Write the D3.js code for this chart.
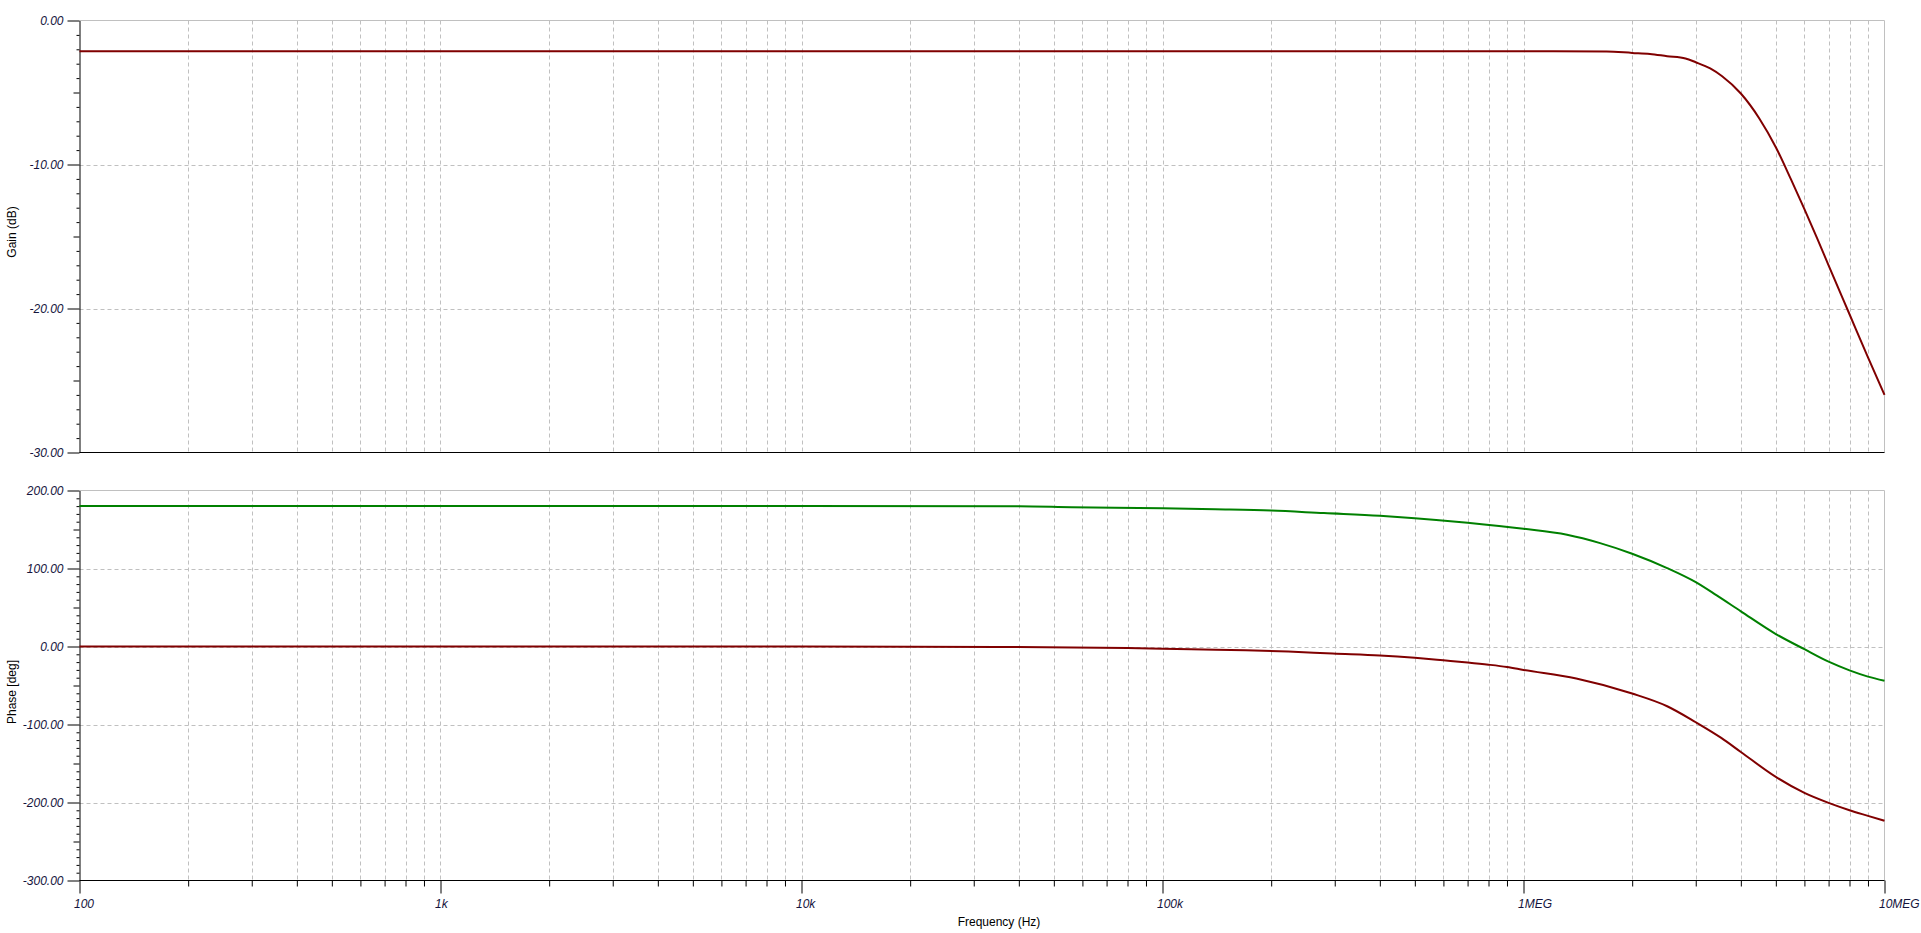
<!DOCTYPE html>
<html>
<head>
<meta charset="utf-8">
<script src="https://cdn.jsdelivr.net/npm/d3@7"></script>
<style>
  html, body { margin: 0; padding: 0; background: #fff; }
  svg { display: block; font-family: "Liberation Sans", Arial, sans-serif; }
  .tick text { font-style: italic; font-size: 12px; fill: #14143c; }
</style>
</head>
<body>
<div id="chart"></div>
<script>
// gain trace (Hz, dB)
const gainFreqs = [100, 1e4, 1e6, 1.7e6, 2e6, 2.24e6, 2.5e6, 2.81e6, 3e6, 3.29e6, 3.55e6, 4e6, 4.5e6, 5e6, 5.5e6, 6e6, 6.5e6, 7e6, 8e6, 9e6, 1e7]
const gainValues = [-2.13, -2.13, -2.13, -2.15, -2.25, -2.32, -2.48, -2.64, -2.9, -3.33, -3.87, -5.07, -6.8, -8.8, -11.0, -13.1, -15.1, -17.0, -20.4, -23.4, -26.0]

// phase traces (Hz, deg)
const phaseOutFreqs = [100, 1e4, 2e4, 3.5e4, 8e4, 1.2e5, 1.7e5, 2.23e5, 2.96e5, 4e5, 5e5, 6e5, 7e5, 8e5, 9e5, 1e6, 1.4e6, 2e6, 2.5e6, 3e6, 3.53e6, 4e6, 5e6, 6e6, 7e6, 8e6, 9e6, 1e7]
const phaseOut = [0, 0, -0.2, -0.6, -1.9, -3.6, -4.9, -6.5, -9.1, -11.5, -14.5, -17.7, -20.5, -23.3, -26.3, -30.0, -41.0, -60.3, -76.6, -97.1, -117.2, -135.2, -167.2, -187.7, -200.5, -209.9, -217.1, -223.5]

const phaseInvFreqs = [100, 1e4, 4e4, 5.6e4, 1e5, 1.4e5, 2e5, 2.8e5, 4e5, 5e5, 7e5, 1e6, 1.32e6, 1.63e6, 2e6, 2.5e6, 3e6, 3.43e6, 4e6, 5e6, 6e6, 7e6, 8e6, 9e6, 1e7]
const phaseInv = [180, 180, 179.8, 178.6, 177.3, 176.0, 174.3, 171.0, 167.6, 164.5, 158.6, 150.9, 143.2, 132.5, 118.9, 100.5, 82.5, 65.5, 45.1, 16.0, -3.5, -19.5, -30.6, -38.6, -44.0]

const decades = [100, 1e3, 1e4, 1e5, 1e6, 1e7]
const decadeLabels = ["100", "1k", "10k", "100k", "1MEG", "10MEG"]
const gainTickLabels = ["0.00", "-10.00", "-20.00", "-30.00"]
const phaseTickLabels = ["200.00", "100.00", "0.00", "-100.00", "-200.00", "-300.00"]

const width = 1921, height = 933
const left = 79.5, right = 1884.5
const gainTop = 20.5, gainBottom = 452.5
const phaseTop = 490.5, phaseBottom = 880.5

const svg = d3.select("#chart").append("svg")
  .attr("width", width)
  .attr("height", height)

const x = d3.scaleLog().domain([100, 1e7]).range([left, right])
const yGain = d3.scaleLinear().domain([0, -30]).range([gainTop, gainBottom])
const yPhase = d3.scaleLinear().domain([200, -300]).range([phaseTop, phaseBottom])

// every 2..9 step of each decade, plus decades inside the range
const minorFreqs = []
decades.slice(0, -1).forEach(d => { for (let k = 1; k < 10; k++) minorFreqs.push(d * k) })
minorFreqs.push(1e7)

const grid = "#c0c0c0"

function panel(y, top, bottom, minorStep, midStep, majorStep, labels) {
  const [y0, y1] = y.domain()
  const g = svg.append("g")

  // vertical dashed grid
  g.selectAll(".vgrid")
    .data(minorFreqs.filter(f => f > 100 && f < 1e7))
    .enter().append("line")
    .attr("x1", d => Math.round(x(d)) + 0.5)
    .attr("x2", d => Math.round(x(d)) + 0.5)
    .attr("y1", top)
    .attr("y2", bottom)
    .attr("stroke", grid)
    .attr("stroke-dasharray", "4,3")

  // horizontal dashed grid at majors
  const majors = d3.range(y0, y1 - 0.001, -majorStep)
  g.selectAll(".hgrid")
    .data(majors.filter(v => v !== y0 && v !== y1))
    .enter().append("line")
    .attr("x1", left)
    .attr("x2", right)
    .attr("y1", d => Math.round(y(d)) + 0.5)
    .attr("y2", d => Math.round(y(d)) + 0.5)
    .attr("stroke", grid)
    .attr("stroke-dasharray", "4,3")

  // frame top and right
  g.append("line").attr("x1", left).attr("x2", right).attr("y1", top).attr("y2", top).attr("stroke", grid)
  g.append("line").attr("x1", right).attr("x2", right).attr("y1", top).attr("y2", bottom).attr("stroke", grid)

  // left axis, three tick levels
  const all = d3.range(y0, y1 - 0.001, -minorStep)
  const axisMinor = d3.axisLeft(y).tickValues(all.filter(v => Math.abs(v % midStep) > 0.001)).tickSize(3).tickSizeOuter(0).tickFormat("")
  const axisMid = d3.axisLeft(y).tickValues(all.filter(v => Math.abs(v % midStep) < 0.001 && Math.abs(v % majorStep) > 0.001)).tickSize(6).tickSizeOuter(0).tickFormat("")
  const axisMajor = d3.axisLeft(y).tickValues(majors).tickSize(12).tickSizeOuter(0).tickPadding(4)
    .tickFormat((d, i) => labels[i])

  g.append("g").attr("transform", `translate(${left},0)`).call(axisMinor).call(a => a.select(".domain").remove())
  g.append("g").attr("transform", `translate(${left},0)`).call(axisMid).call(a => a.select(".domain").remove())
  g.append("g").attr("transform", `translate(${left},0)`).call(axisMajor)
  g.selectAll(".domain, .tick line").attr("stroke", "#000")

  // bottom black line
  g.append("line").attr("x1", left).attr("x2", right).attr("y1", bottom).attr("y2", bottom).attr("stroke", "#000")
  return g
}

panel(yGain, gainTop, gainBottom, 1, 5, 10, gainTickLabels)
panel(yPhase, phaseTop, phaseBottom, 10, 50, 100, phaseTickLabels)

// frequency axis under the phase panel
const xMinor = d3.axisBottom(x).tickValues(minorFreqs.filter(f => !decades.includes(f))).tickSize(6).tickSizeOuter(0).tickFormat("")
const xMajor = d3.axisBottom(x).tickValues(decades).tickSize(13).tickSizeOuter(0).tickPadding(6)
  .tickFormat((d, i) => decadeLabels[i])

svg.append("g").attr("transform", `translate(0,${phaseBottom})`).call(xMinor).call(a => a.select(".domain").remove())
const xg = svg.append("g").attr("transform", `translate(0,${phaseBottom})`).call(xMajor)
xg.select(".domain").remove()
xg.selectAll("text").attr("text-anchor", "start").attr("dx", -6)
svg.selectAll(".tick line").attr("stroke", "#000")

// traces
const line = (ys) => d3.line()
  .x(d => x(d[0]))
  .y(d => ys(d[1]))
  .curve(d3.curveMonotoneX)

svg.append("path")
  .datum(d3.zip(gainFreqs, gainValues))
  .attr("d", line(yGain))
  .attr("fill", "none")
  .attr("stroke", "#800000")
  .attr("stroke-width", 2)

svg.append("path")
  .datum(d3.zip(phaseInvFreqs, phaseInv))
  .attr("d", line(yPhase))
  .attr("fill", "none")
  .attr("stroke", "#008000")
  .attr("stroke-width", 2)

svg.append("path")
  .datum(d3.zip(phaseOutFreqs, phaseOut))
  .attr("d", line(yPhase))
  .attr("fill", "none")
  .attr("stroke", "#800000")
  .attr("stroke-width", 2)

// axis titles
svg.append("text")
  .attr("transform", "translate(16,232) rotate(-90)")
  .attr("text-anchor", "middle")
  .attr("font-size", 12)
  .text("Gain (dB)")

svg.append("text")
  .attr("transform", "translate(16,692) rotate(-90)")
  .attr("text-anchor", "middle")
  .attr("font-size", 12)
  .text("Phase [deg]")

svg.append("text")
  .attr("x", 999)
  .attr("y", 926)
  .attr("text-anchor", "middle")
  .attr("font-size", 12)
  .text("Frequency (Hz)")
</script>
</body>
</html>
